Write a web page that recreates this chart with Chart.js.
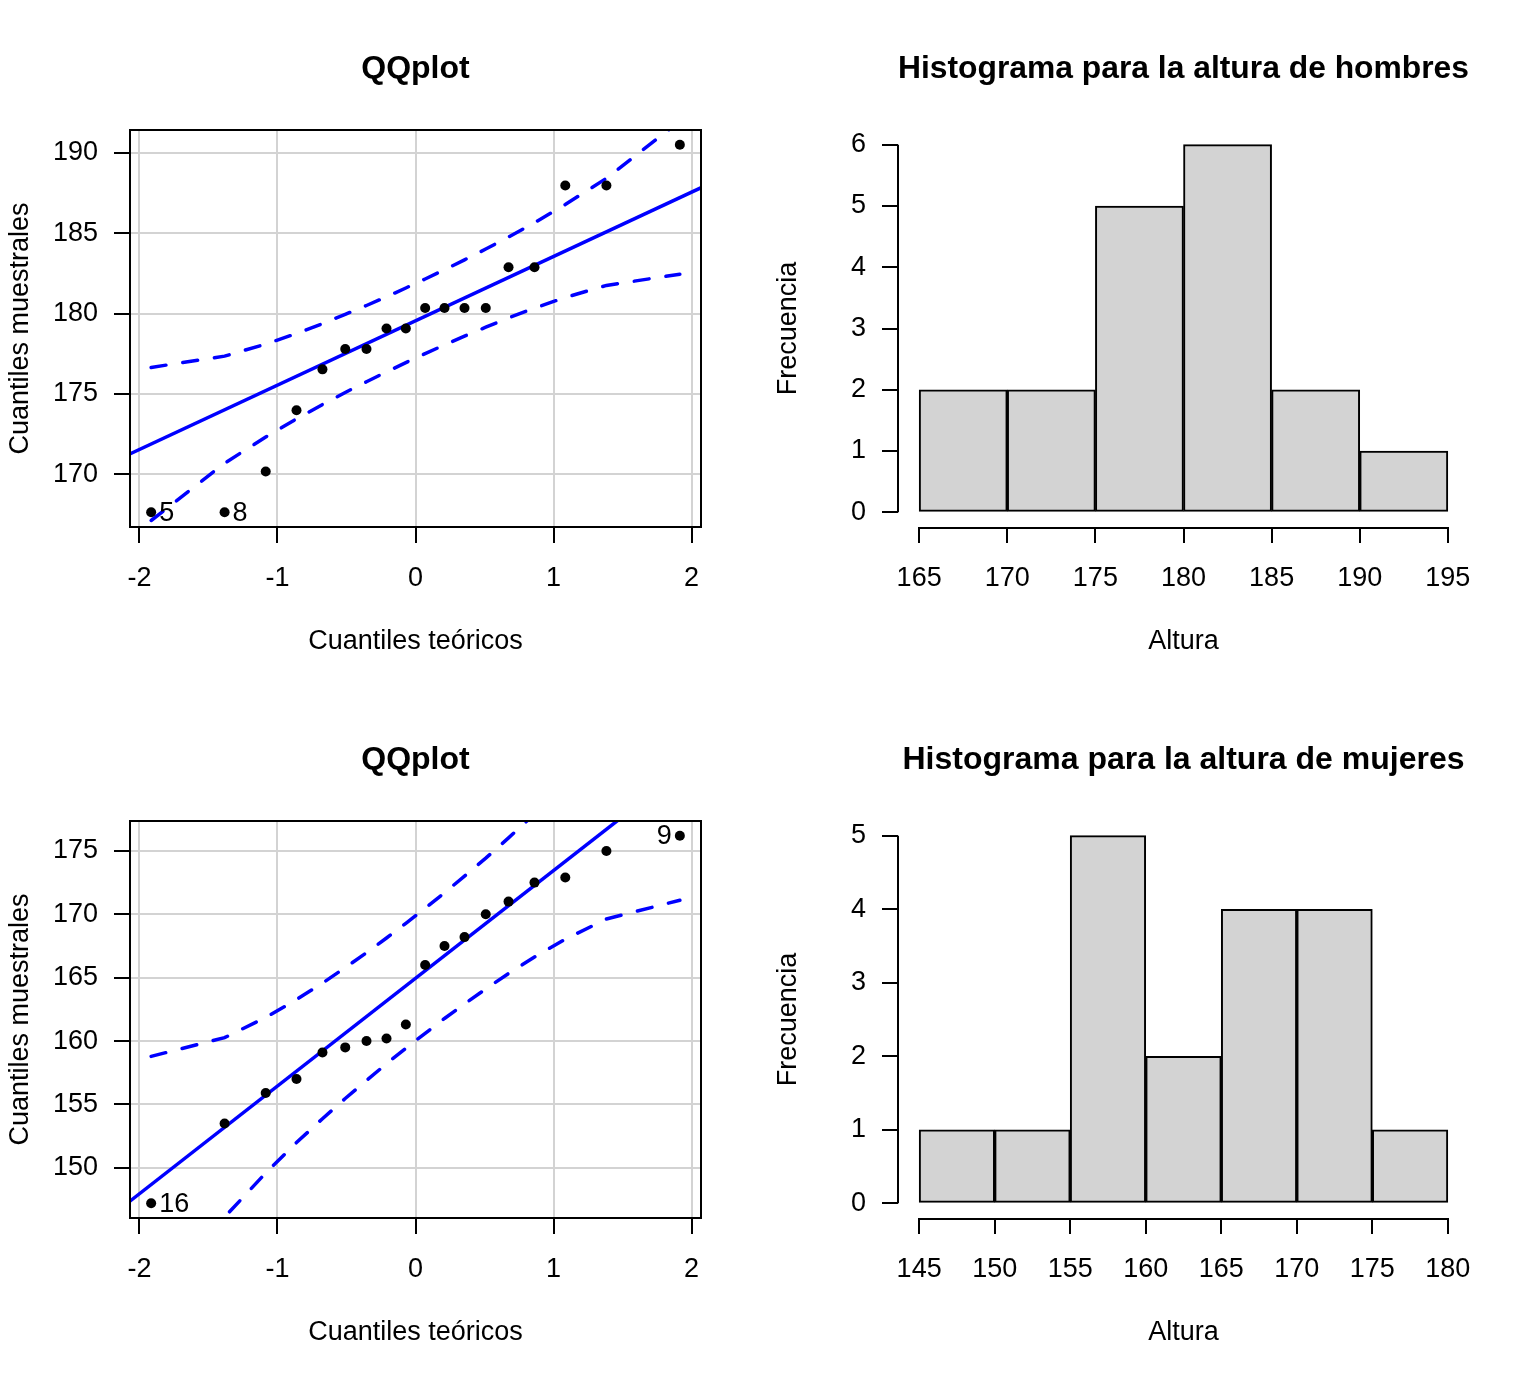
<!DOCTYPE html>
<html>
<head>
<meta charset="utf-8">
<script src="https://cdn.jsdelivr.net/npm/chart.js@4.4.0/dist/chart.umd.min.js"></script>
<style>
  html, body { margin: 0; padding: 0; background: #fff; }
  #wrap { position: relative; width: 1536px; height: 1382px; }
  #wrap canvas { position: absolute; }
</style>
</head>
<body>
<div id="wrap">
  <canvas id="qqHombres" width="768" height="691" style="left:0;top:0"></canvas>
  <canvas id="histHombres" width="768" height="691" style="left:768px;top:0"></canvas>
  <canvas id="qqMujeres" width="768" height="691" style="left:0;top:691px"></canvas>
  <canvas id="histMujeres" width="768" height="691" style="left:768px;top:691px"></canvas>
</div>
<script>
// cuantiles teoricos (n = 18, mismos para ambos grupos)
const cuantilesTeoricos = [-1.915, -1.383, -1.085, -0.862, -0.674, -0.509, -0.355, -0.210, -0.070,
                           0.070, 0.210, 0.355, 0.509, 0.674, 0.862, 1.085, 1.383, 1.915];

// alturas ordenadas
const alturaHombres = [167.64, 167.64, 170.18, 173.99, 176.53, 177.8, 177.8, 179.07, 179.07,
                       180.34, 180.34, 180.34, 180.34, 182.88, 182.88, 187.96, 187.96, 190.5];
const alturaMujeres = [147.2, 153.5, 155.9, 157.0, 159.1, 159.5, 160.0, 160.2, 161.3,
                       166.0, 167.5, 168.2, 170.0, 171.0, 172.5, 172.9, 175.0, 176.2];

// recta de referencia (extremos x, y)
const rectaHombres = [[-2.1, 171.15], [2.1, 187.95]];
const rectaMujeres = [[-2.1, 147.1], [2.1, 182.8]];

// bandas de confianza
const bandaSupHombres = [176.65, 177.35, 178.10, 178.76, 179.37, 179.95, 180.50, 181.04, 181.59,
                         182.15, 182.72, 183.34, 184.01, 184.76, 185.65, 186.78, 188.41, 191.97];
const bandaInfHombres = [167.13, 170.69, 172.32, 173.45, 174.34, 175.09, 175.76, 176.37, 176.95,
                         177.51, 178.05, 178.60, 179.15, 179.73, 180.34, 181.00, 181.75, 182.45];
const bandaSupMujeres = [158.79, 160.27, 161.86, 163.27, 164.57, 165.79, 166.97, 168.13, 169.29,
                         170.47, 171.70, 173.01, 174.43, 176.03, 177.91, 180.30, 183.79, 191.35];
const bandaInfMujeres = [138.55, 146.11, 149.59, 151.99, 153.87, 155.47, 156.89, 158.21, 159.43,
                         160.61, 161.78, 162.93, 164.11, 165.33, 166.63, 168.04, 169.63, 171.11];

// puntos identificados [indice, etiqueta]
const idHombres = [[0, '5'], [1, '8']];
const idMujeres = [[0, '16'], [17, '9']];

// histogramas
const cortesHombres = [165, 170, 175, 180, 185, 190, 195];
const frecHombres = [2, 2, 5, 6, 2, 1];
const cortesMujeres = [145, 150, 155, 160, 165, 170, 175, 180];
const frecMujeres = [1, 1, 5, 2, 4, 4, 1];

// marcas de los ejes
const ticksQQx = [-2, -1, 0, 1, 2];
const ticksHombresY = [170, 175, 180, 185, 190];
const ticksMujeresY = [150, 155, 160, 165, 170, 175];
const ticksFrecHombres = [0, 1, 2, 3, 4, 5, 6];
const ticksFrecMujeres = [0, 1, 2, 3, 4, 5];

const FUENTE = "'Liberation Sans', Arial, sans-serif";
const AZUL = '#0000ff';
const GRIS = '#d3d3d3';

Chart.defaults.font.family = FUENTE;
Chart.defaults.font.size = 27;
Chart.defaults.color = '#000';
Chart.defaults.animation = false;
Chart.defaults.responsive = false;
Chart.defaults.plugins.legend.display = false;
Chart.defaults.plugins.tooltip.enabled = false;

// rango como en R: +- 4%
function rango(min, max) {
  const p = (max - min) * 0.04;
  return [min - p, max + p];
}

function fijarTicks(lista) {
  return scale => { scale.ticks = lista.map(v => ({value: v})); };
}

// caja, ejes sueltos y etiquetas de puntos
const estiloR = {
  id: 'estiloR',
  afterDatasetsDraw(chart, args, opts) {
    const {ctx, chartArea: a, scales: {x, y}} = chart;
    ctx.save();
    ctx.strokeStyle = '#000';
    ctx.lineWidth = 2;
    if (opts.caja) {
      ctx.strokeRect(a.left, a.top, a.right - a.left, a.bottom - a.top);
    }
    if (opts.ejes) {
      const [x0, x1] = [opts.ejes.x[0], opts.ejes.x[opts.ejes.x.length - 1]];
      const [y0, y1] = [opts.ejes.y[0], opts.ejes.y[opts.ejes.y.length - 1]];
      ctx.beginPath();
      ctx.moveTo(x.getPixelForValue(x0), a.bottom + 1);
      ctx.lineTo(x.getPixelForValue(x1), a.bottom + 1);
      ctx.moveTo(a.left, y.getPixelForValue(y0));
      ctx.lineTo(a.left, y.getPixelForValue(y1));
      ctx.stroke();
    }
    if (opts.ids) {
      ctx.font = '27px ' + FUENTE;
      ctx.fillStyle = '#000';
      ctx.textBaseline = 'middle';
      opts.ids.forEach(([i, txt]) => {
        const px = x.getPixelForValue(opts.xs[i]);
        const py = y.getPixelForValue(opts.ys[i]);
        if (opts.xs[i] > 0) {
          ctx.textAlign = 'right';
          ctx.fillText(txt, px - 8, py + 1);
        } else {
          ctx.textAlign = 'left';
          ctx.fillText(txt, px + 8, py + 1);
        }
      });
    }
    ctx.restore();
  }
};

function tituloR(texto) {
  return {
    display: true,
    text: texto,
    fullSize: false,
    font: {size: 32, weight: 'bold'},
    color: '#000',
    padding: {top: 50.4, bottom: 41.2}
  };
}

function ejeX(titulo, min, max, ticks, conRejilla) {
  return {
    type: 'linear',
    position: 'bottom',
    min: min,
    max: max,
    offset: false,
    afterBuildTicks: fijarTicks(ticks),
    afterFit: s => { s.height = 164; },
    border: {display: false},
    grid: {
      offset: false,
      drawOnChartArea: conRejilla,
      color: GRIS,
      lineWidth: 2,
      tickColor: '#000',
      tickWidth: 2,
      tickLength: 16
    },
    ticks: {autoSkip: false, maxRotation: 0, padding: 19.4, callback: v => String(v)},
    title: {display: true, text: titulo, padding: {top: 0, bottom: 33.4}}
  };
}

function ejeY(titulo, min, max, ticks, conRejilla) {
  return {
    type: 'linear',
    position: 'left',
    min: min,
    max: max,
    afterBuildTicks: fijarTicks(ticks),
    afterFit: s => { s.width = 130; },
    border: {display: false},
    grid: {
      drawOnChartArea: conRejilla,
      color: GRIS,
      lineWidth: 2,
      tickColor: '#000',
      tickWidth: 2,
      tickLength: 16
    },
    ticks: {autoSkip: false, padding: 16, callback: v => String(v)},
    title: {display: true, text: titulo, padding: {top: 4.4, bottom: 0}}
  };
}

function crearQQ(id, alturas, recta, sup, inf, ids, ticksY) {
  const pares = arr => cuantilesTeoricos.map((q, i) => ({x: q, y: arr[i]}));
  const [ymin, ymax] = rango(alturas[0], alturas[alturas.length - 1]);
  const [xmin, xmax] = rango(cuantilesTeoricos[0], cuantilesTeoricos[cuantilesTeoricos.length - 1]);
  const linea = {showLine: true, pointRadius: 0, borderColor: AZUL, borderWidth: 3.5, fill: false, tension: 0};
  new Chart(document.getElementById(id), {
    type: 'scatter',
    data: {
      datasets: [
        {data: pares(alturas), pointRadius: 5, pointBackgroundColor: '#000', pointBorderWidth: 0, showLine: false},
        Object.assign({data: pares(sup), borderDash: [15, 17], borderCapStyle: 'round'}, linea),
        Object.assign({data: pares(inf), borderDash: [15, 17], borderCapStyle: 'round'}, linea),
        Object.assign({data: recta.map(([x, y]) => ({x, y}))}, linea)
      ]
    },
    options: {
      layout: {padding: {left: 0, right: 67, top: 0, bottom: 0}},
      events: [],
      scales: {
        x: ejeX('Cuantiles teóricos', xmin, xmax, ticksQQx, true),
        y: ejeY('Cuantiles muestrales', ymin, ymax, ticksY, true)
      },
      plugins: {
        title: tituloR('QQplot'),
        estiloR: {caja: true, ids: ids, xs: cuantilesTeoricos, ys: alturas}
      }
    },
    plugins: [estiloR]
  });
}

function crearHist(id, titulo, cortes, frec, ticksY) {
  const barras = frec.map((f, i) => ({x: (cortes[i] + cortes[i + 1]) / 2, y: f}));
  const [xmin, xmax] = rango(cortes[0], cortes[cortes.length - 1]);
  const [ymin, ymax] = rango(0, Math.max(...frec));
  new Chart(document.getElementById(id), {
    type: 'bar',
    data: {
      datasets: [{
        data: barras,
        backgroundColor: GRIS,
        borderColor: '#000',
        borderWidth: 2,
        borderSkipped: false,
        barPercentage: 1,
        categoryPercentage: 1
      }]
    },
    options: {
      layout: {padding: {left: 0, right: 67, top: 0, bottom: 0}},
      events: [],
      scales: {
        x: ejeX('Altura', xmin, xmax, cortes, false),
        y: ejeY('Frecuencia', ymin, ymax, ticksY, false)
      },
      plugins: {
        title: tituloR(titulo),
        estiloR: {caja: false, ejes: {x: cortes, y: ticksY}}
      }
    },
    plugins: [estiloR]
  });
}

crearQQ('qqHombres', alturaHombres, rectaHombres, bandaSupHombres, bandaInfHombres, idHombres, ticksHombresY);
crearHist('histHombres', 'Histograma para la altura de hombres', cortesHombres, frecHombres, ticksFrecHombres);
crearQQ('qqMujeres', alturaMujeres, rectaMujeres, bandaSupMujeres, bandaInfMujeres, idMujeres, ticksMujeresY);
crearHist('histMujeres', 'Histograma para la altura de mujeres', cortesMujeres, frecMujeres, ticksFrecMujeres);
</script>
</body>
</html>
